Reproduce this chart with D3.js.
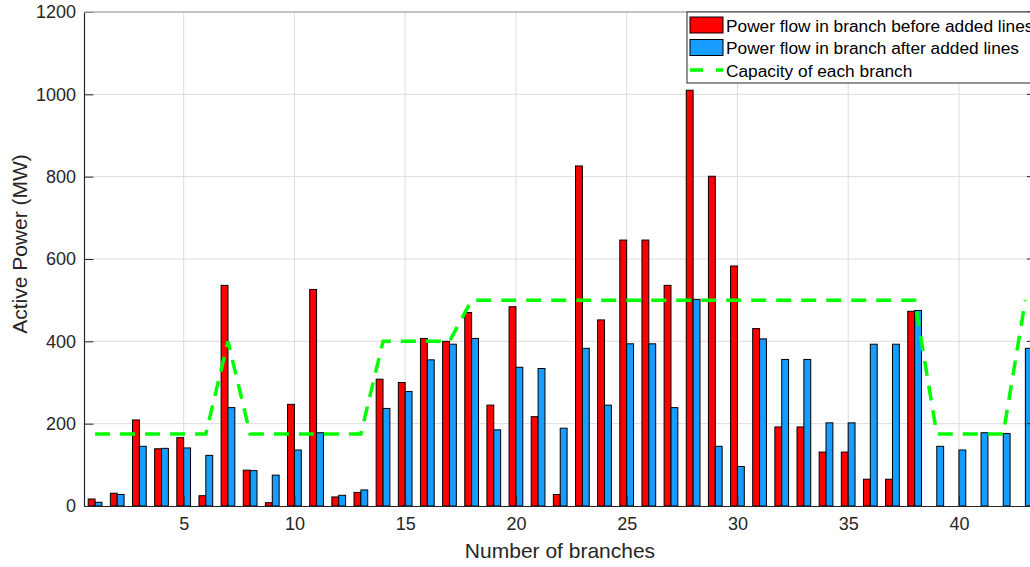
<!DOCTYPE html>
<html>
<head>
<meta charset="utf-8">
<script src="https://cdn.jsdelivr.net/npm/d3@7/dist/d3.min.js"></script>
<style>
html,body{margin:0;padding:0;background:#fff;overflow:hidden;}
svg{display:block;font-family:"Liberation Sans",Arial,sans-serif;}
</style>
</head>
<body>
<svg id="chart" width="1030" height="567"></svg>
<script>
const branches = d3.range(1, 44);
const before = [17,31,209,139,166,25,536,87,8,247,526,22,33,308,300,407,400,470,245,484,217,28,826,452,646,646,536,1010,801,583,431,192,192,131,131,65,65,473,0,0,0,0,0];
const after  = [9,28,145,140,141,123,239,86,75,136,178,26,39,237,278,355,393,407,185,337,334,189,383,245,394,394,239,502,145,96,406,356,356,202,202,393,393,475,145,136,178,176,383];
const capacity = [175,175,175,175,175,175,400,175,175,175,175,175,175,400,400,400,400,500,500,500,500,500,500,500,500,500,500,500,500,500,500,500,500,500,500,500,500,500,175,175,175,175,500];
const xTicks = [5,10,15,20,25,30,35,40];
const yTicks = [0,200,400,600,800,1000,1200];
const legendLabels = ["Power flow in branch before added lines","Power flow in branch after added lines","Capacity of each branch"];

const svg = d3.select("#chart");
const L = 84, T = 12, B = 506;
const x = d3.scaleLinear().domain([0.5, 43.5]).range([L, L + 43 * 22.15]);
const y = d3.scaleLinear().domain([0, 1200]).range([B, T]);
const R = x(43.5);
const bw = 0.31 * 22.15;
const txt = "#262626";

// grid
const g = svg.append("g");
g.selectAll(".gx").data(xTicks).enter().append("line")
  .attr("x1", d => x(d)).attr("x2", d => x(d)).attr("y1", T).attr("y2", B)
  .attr("stroke", "#dcdcdc").attr("stroke-width", 1);
g.selectAll(".gy").data(yTicks.slice(1)).enter().append("line")
  .attr("x1", L).attr("x2", R).attr("y1", d => y(d)).attr("y2", d => y(d))
  .attr("stroke", "#dcdcdc").attr("stroke-width", 1);

// bars
const bars = svg.append("g");
bars.selectAll(".rb").data(branches.filter((d,i)=>before[i]>0)).enter().append("rect")
  .attr("x", d => x(d) - bw).attr("width", bw)
  .attr("y", d => y(before[d-1])).attr("height", d => B - y(before[d-1]))
  .attr("fill", "#ff0000").attr("stroke", "#000").attr("stroke-width", 1);
bars.selectAll(".bb").data(branches).enter().append("rect")
  .attr("x", d => x(d)).attr("width", bw)
  .attr("y", d => y(after[d-1])).attr("height", d => B - y(after[d-1]))
  .attr("fill", "#169dff").attr("stroke", "#000").attr("stroke-width", 1);

// capacity line
svg.append("path")
  .datum(branches)
  .attr("d", d3.line().x(d => x(d)).y(d => y(capacity[d-1])))
  .attr("fill", "none").attr("stroke", "#00ff00").attr("stroke-width", 3.5)
  .attr("stroke-dasharray", "15,10");

// axes
const xAxis = d3.axisBottom(x).tickValues(xTicks).tickSize(0).tickPadding(11).tickFormat(d3.format("d"));
const xa = svg.append("g").attr("transform", `translate(0,${B})`).call(xAxis);
xa.select(".domain").attr("stroke", txt).attr("stroke-width", 1.2);
xa.selectAll("text").attr("font-size", 18).attr("fill", txt).attr("font-family", "Liberation Sans, Arial, sans-serif");
xa.selectAll(".tick").append("line").attr("y1", 0).attr("y2", -9.5).attr("stroke", txt);

const yAxis = d3.axisLeft(y).tickValues(yTicks).tickSize(0).tickPadding(8).tickFormat(d3.format("d"));
const ya = svg.append("g").attr("transform", `translate(${L},0)`).call(yAxis);
ya.select(".domain").attr("stroke", txt).attr("stroke-width", 1.2);
ya.selectAll("text").attr("font-size", 18).attr("fill", txt).attr("font-family", "Liberation Sans, Arial, sans-serif");
ya.selectAll(".tick").append("line").attr("x1", 0).attr("x2", 9.5).attr("stroke", txt);

// top and right box
svg.append("line").attr("x1", L).attr("x2", R).attr("y1", T).attr("y2", T).attr("stroke", "#b4b4b4").attr("stroke-width", 1.5);
svg.append("line").attr("x1", R).attr("x2", R).attr("y1", T).attr("y2", B).attr("stroke", txt).attr("stroke-width", 1.2);
svg.selectAll(".rt").data(yTicks).enter().append("line")
  .attr("x1", R - 9.5).attr("x2", R).attr("y1", d => y(d)).attr("y2", d => y(d)).attr("stroke", txt);

// axis titles
svg.append("text").attr("x", 560).attr("y", 558).attr("text-anchor", "middle")
  .attr("font-size", 21).attr("fill", txt).text("Number of branches");
svg.append("text").attr("transform", "translate(27,244) rotate(-90)").attr("text-anchor", "middle")
  .attr("font-size", 21).attr("fill", txt).text("Active Power (MW)");

// legend
const lg = svg.append("g");
lg.append("rect").attr("x", 687).attr("y", 12).attr("width", 380).attr("height", 71)
  .attr("fill", "#fff").attr("stroke", txt).attr("stroke-width", 1);
lg.append("rect").attr("x", 690).attr("y", 17).attr("width", 33).attr("height", 16)
  .attr("fill", "#ff0000").attr("stroke", "#000");
lg.append("rect").attr("x", 690).attr("y", 39.5).attr("width", 33).attr("height", 16)
  .attr("fill", "#169dff").attr("stroke", "#000");
lg.append("line").attr("x1", 690).attr("x2", 723).attr("y1", 70).attr("y2", 70)
  .attr("stroke", "#00ff00").attr("stroke-width", 3.5).attr("stroke-dasharray", "13,13");
lg.selectAll(".lt").data(legendLabels).enter().append("text")
  .attr("x", 726).attr("y", (d,i) => 31.5 + i * 22.5)
  .attr("font-size", 17.3).attr("fill", "#000").text(d => d);
</script>
</body>
</html>
